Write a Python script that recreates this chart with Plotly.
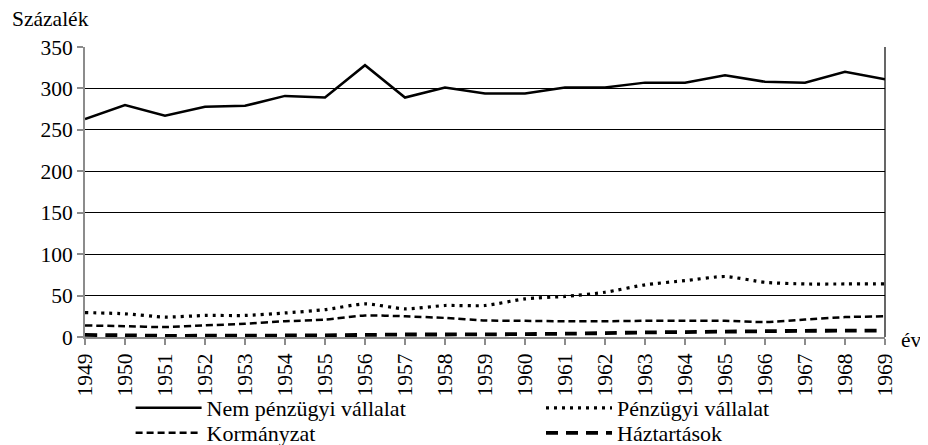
import plotly.graph_objects as go

years = list(range(1949, 1970))
nem_penzugyi = [263, 280, 267, 278, 279, 291, 289, 328, 289, 301, 294, 294, 301, 301, 307, 307, 316, 308, 307, 320, 311]
penzugyi = [29.5, 28, 24, 26, 26, 29, 33, 40, 34, 38, 38, 46, 49, 54, 63, 68, 73, 66, 64, 64, 64]
kormanyzat = [14, 13, 12, 14, 16, 19, 21, 26, 25, 23, 20, 19.5, 19, 19, 19.5, 19.5, 19.5, 18, 21, 24, 25]
haztartasok = [2.5, 2, 1.5, 1.5, 1.5, 1.8, 2, 2.5, 3, 3, 3.2, 3.5, 4, 4.7, 5.5, 6, 6.5, 7, 7.5, 7.6, 7.7]

names = ["Nem pénzügyi vállalat", "Pénzügyi vállalat", "Kormányzat", "Háztartások"]
y_ticks = [0, 50, 100, 150, 200, 250, 300, 350]

FONT = "Liberation Serif, Times New Roman, serif"
FS = 21.5

fig = go.Figure()
fig.add_trace(go.Scatter(x=years, y=nem_penzugyi, name=names[0], mode="lines", legend="legend",
                         line=dict(color="black", width=2.5)))
fig.add_trace(go.Scatter(x=years, y=penzugyi, name=names[1], mode="lines", legend="legend2",
                         line=dict(color="black", width=3.2, dash="3px,5px", shape="spline", smoothing=0.6)))
fig.add_trace(go.Scatter(x=years, y=kormanyzat, name=names[2], mode="lines", legend="legend3",
                         line=dict(color="black", width=2.5, dash="7px,4px", shape="spline", smoothing=0.6)))
fig.add_trace(go.Scatter(x=years, y=haztartasok, name=names[3], mode="lines", legend="legend4",
                         line=dict(color="black", width=3.8, dash="12px,8px", shape="spline", smoothing=0.6)))

def leg(x, y):
    return dict(orientation="v", xref="paper", yref="paper", x=x, y=y,
                xanchor="left", yanchor="middle",
                font=dict(family=FONT, size=22, color="black"), itemwidth=66,
                bgcolor="rgba(0,0,0,0)", borderwidth=0, tracegroupgap=0)

# page body has an 8px default margin, so the figure is 8px smaller
fig.update_layout(
    width=920, height=437,
    margin=dict(l=77, r=43, t=39, b=108, autoexpand=False),
    paper_bgcolor="white", plot_bgcolor="white",
    font=dict(family=FONT, size=FS, color="black"),
    showlegend=True,
    legend=leg(0.057, -0.245),
    legend2=leg(0.57, -0.245),
    legend3=leg(0.057, -0.331),
    legend4=leg(0.57, -0.331),
    xaxis=dict(range=[1949, 1969], tickvals=years, ticktext=[str(y) for y in years],
               tickangle=-90, showgrid=False, zeroline=False,
               showline=True, linecolor="#8c8c8c", linewidth=2,
               ticks="outside", ticklen=6, tickwidth=2, tickcolor="#8c8c8c",
               tickfont=dict(family=FONT, size=FS, color="black")),
    yaxis=dict(range=[0, 350], tickvals=y_ticks, showgrid=True, gridcolor="black", gridwidth=1.2,
               zeroline=False, showline=True, linecolor="#8c8c8c", linewidth=2,
               ticks="outside", ticklen=6, tickwidth=2, tickcolor="#8c8c8c",
               tickfont=dict(family=FONT, size=FS, color="black")),
    shapes=[dict(type="line", xref="paper", yref="paper", x0=1, x1=1, y0=0, y1=1,
                 line=dict(color="black", width=1.2))],
    annotations=[
        dict(text="Százalék", xref="paper", yref="paper", x=-0.094, y=1.095,
             xanchor="left", yanchor="middle", showarrow=False,
             font=dict(family=FONT, size=FS, color="black")),
        dict(text="év", xref="paper", yref="paper", x=1.017, y=-0.01,
             xanchor="left", yanchor="middle", showarrow=False,
             font=dict(family=FONT, size=FS, color="black")),
    ],
)

fig.write_html("out.html")
